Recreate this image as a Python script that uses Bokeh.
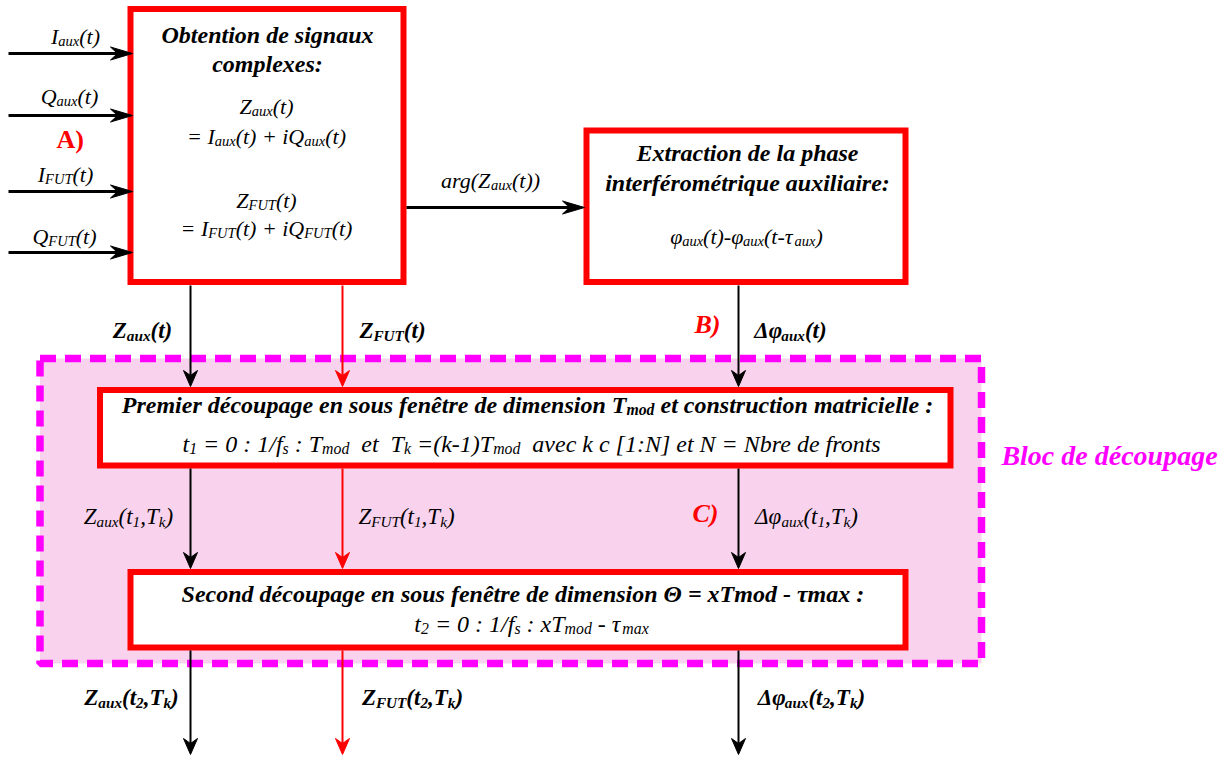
import re
import math
from bokeh.plotting import figure
from bokeh.models import Range1d, Label
from bokeh.embed import file_html
from bokeh.resources import INLINE

FONT = "Liberation Serif"

# ---------------- text content ----------------
input_labels = ["I_{aux}(t)", "Q_{aux}(t)", "I_{FUT}(t)", "Q_{FUT}(t)"]
block_a_title = ["Obtention de signaux", "complexes:"]
block_a_body = ["Z_{aux}(t)", "= I_{aux}(t) + iQ_{aux}(t)",
                "Z_{FUT}(t)", "= I_{FUT}(t) + iQ_{FUT}(t)"]
arg_label = "arg(Z_{aux}(t))"
block_b_title = ["Extraction de la phase", "interférométrique auxiliaire:"]
block_b_body = "φ_{aux}(t)-φ_{aux}(t-τ_{aux})"
stage1_signals = ["Z_{aux}(t)", "Z_{FUT}(t)", "Δφ_{aux}(t)"]
block_c_lines = ["Premier découpage en sous fenêtre de dimension T_{mod} et construction matricielle :",
                 "t_{1} = 0 : 1/f_{s} : T_{mod}  et  T_{k} =(k-1)T_{mod}  avec k c [1:N] et N = Nbre de fronts"]
stage2_signals = ["Z_{aux}(t_{1},T_{k})", "Z_{FUT}(t_{1},T_{k})", "Δφ_{aux}(t_{1},T_{k})"]
block_d_lines = ["Second découpage en sous fenêtre de dimension Θ = xTmod - τmax :",
                 "t_{2} = 0 : 1/f_{s} : xT_{mod} - τ_{max}"]
stage3_signals = ["Z_{aux}(t_{2},T_{k})", "Z_{FUT}(t_{2},T_{k})", "Δφ_{aux}(t_{2},T_{k})"]
step_markers = ["A)", "B)", "C)"]
region_label = "Bloc de découpage"

# ---------------- approximate glyph widths (Times metrics, 1/1000 em) ----------------
def _table(spec):
    d = {}
    for chars, w in spec:
        for c in chars:
            d[c] = w
    return d

IT = _table([(" \u00a0,.", 250), ("()-", 333), ("/f", 278), (":", 333), ("=+", 675), ("[]", 389),
             ("0123456789", 500), ("ABEFPRV", 611), ("CK", 667), ("DGHOQU", 722), ("I", 333),
             ("J", 444), ("L", 556), ("MW", 833), ("N", 667), ("S", 500), ("TYZ", 556), ("X", 611),
             ("abdghnopqu", 500), ("ceéêkvxy", 444), ("ijlt", 278), ("m", 722), ("rsz", 389),
             ("w", 667), ("φ", 540), ("τ", 440), ("Δ", 612), ("Θ", 722)])
BI = _table([(" \u00a0,.", 250), ("()-", 333), ("/", 278), (":", 333), ("=+", 570), ("0123456789", 500),
             ("ABCEFKRVX", 667), ("DGNOQU", 722), ("H", 778), ("I", 389), ("J", 500), ("LPTYZ", 611),
             ("MW", 889), ("S", 556), ("abdgkopqx", 500), ("ceéêvy", 444), ("f", 333), ("hnu", 556),
             ("ijlt", 278), ("m", 778), ("rsz", 389), ("w", 667), ("φ", 560), ("τ", 450),
             ("Δ", 612), ("Θ", 722)])

SUB = 0.66
RAISE = 0.33  # empirical baseline correction (fraction of font size)


def parse(s):
    out = []
    for m in re.finditer(r"_\{([^}]*)\}|([^_]+)", s):
        if m.group(1) is not None:
            out.append((m.group(1), True))
        else:
            out.append((m.group(2), False))
    return out


# ---------------- figure (data units == page pixels) ----------------
W, H = 1228, 755
p = figure(width=W, height=H, x_range=Range1d(0, W), y_range=Range1d(H, 0),
           output_backend="svg", toolbar_location=None, min_border=0,
           x_axis_location=None, y_axis_location=None, outline_line_color=None,
           background_fill_color="white", border_fill_color="white")
p.grid.visible = False


def add_label(s, cx, base, fs, style="italic", color="black"):
    tab = BI if "bold" in style else IT

    def w(t, sz):
        return sum(tab.get(c, 500) for c in t) / 1000.0 * sz

    parts = parse(s)
    sizes = [round(fs * SUB, 1) if sub else fs for _, sub in parts]
    total = sum(w(t, sz) for (t, _), sz in zip(parts, sizes))
    x = cx - total / 2.0
    y0 = base - RAISE * fs
    for (t, sub), sz in zip(parts, sizes):
        lead = len(t) - len(t.lstrip(" "))
        txt = t.strip(" ").replace("  ", " \u00a0")
        if txt:
            p.add_layout(Label(x=x + w(" " * lead, sz), y=y0 + (0.2 * fs if sub else 0.0),
                               text=txt, text_font=FONT, text_font_size="%gpx" % sz,
                               text_font_style=style, text_color=color,
                               text_align="left", text_baseline="alphabetic"))
        x += w(t, sz)


RED = "#FF0000"
MAG = "#FF00FF"
PINK = "#F9D3EE"

# dashed region
p.quad(left=[39.5], right=[981], top=[358], bottom=[663], fill_color=PINK,
       line_color=MAG, line_width=7.5, line_dash="16 9")

# blocks
p.quad(left=[130, 586, 99.5, 130], right=[403, 905, 950, 905],
       top=[8.5, 130, 389.5, 571.5], bottom=[281.5, 281.5, 465, 647],
       fill_color="white", line_color=RED, line_width=6, line_join="miter")


def arrow(x0, y0, x1, y1, color="black", lw=2, L=16, hw=7, notch=5):
    dx, dy = x1 - x0, y1 - y0
    d = math.hypot(dx, dy)
    ux, uy = dx / d, dy / d
    nx, ny = -uy, ux
    bx, by = x1 - L * ux, y1 - L * uy
    mx, my = x1 - (L - notch) * ux, y1 - (L - notch) * uy
    p.segment(x0=[x0], y0=[y0], x1=[mx], y1=[my], line_color=color, line_width=lw)
    p.patch(x=[x1, bx + hw * nx, mx, bx - hw * nx], y=[y1, by + hw * ny, my, by - hw * ny],
            fill_color=color, line_color=color, line_width=1)


# inputs
input_y = [53, 115, 191, 252]
for yy in input_y:
    arrow(8, yy, 132, yy, lw=3, L=22, hw=6.5, notch=7)
# A -> B
arrow(406, 207, 584, 207, lw=3, L=22, hw=6.5, notch=7)
# vertical flows
col_x = [190, 342, 738]
col_c = ["black", RED, "black"]
for xx, cc in zip(col_x, col_c):
    arrow(xx, 285, xx, 386, color=cc)
    arrow(xx, 468, xx, 568, color=cc)
    arrow(xx, 650, xx, 754, color=cc)

# ---------------- labels ----------------
for s, cx, by in zip(input_labels, [75, 69, 65, 64], [43, 103, 181, 243]):
    add_label(s, cx, by, 22)
add_label(step_markers[0], 69, 148, 26, style="bold", color=RED)

add_label(block_a_title[0], 267, 42, 24, style="bold italic")
add_label(block_a_title[1], 267, 71, 24, style="bold italic")
for s, by in zip(block_a_body, [113, 143, 207, 235]):
    add_label(s, 266, by, 22)

add_label(arg_label, 490, 187, 22)

add_label(block_b_title[0], 747, 160, 24, style="bold italic")
add_label(block_b_title[1], 747, 190, 24, style="bold italic")
add_label(block_b_body, 746, 243, 22)

for s, cx in zip(stage1_signals, [142, 392, 790]):
    add_label(s, cx, 338, 23, style="bold italic")
add_label(step_markers[1], 707, 333, 26, style="bold italic", color=RED)

add_label(region_label, 1109, 464, 28, style="bold italic", color=MAG)

add_label(block_c_lines[0], 527, 412, 24, style="bold italic")
add_label(block_c_lines[1], 532, 451, 24)

for s, cx in zip(stage2_signals, [128, 406, 806]):
    add_label(s, cx, 524, 23)
add_label(step_markers[2], 705, 522, 26, style="bold italic", color=RED)

add_label(block_d_lines[0], 522, 601, 24, style="bold italic")
add_label(block_d_lines[1], 531, 631, 24)

for s, cx in zip(stage3_signals, [131, 412, 811]):
    add_label(s, cx, 705, 23, style="bold italic")

open("out.html", "w").write(file_html(p, INLINE))
